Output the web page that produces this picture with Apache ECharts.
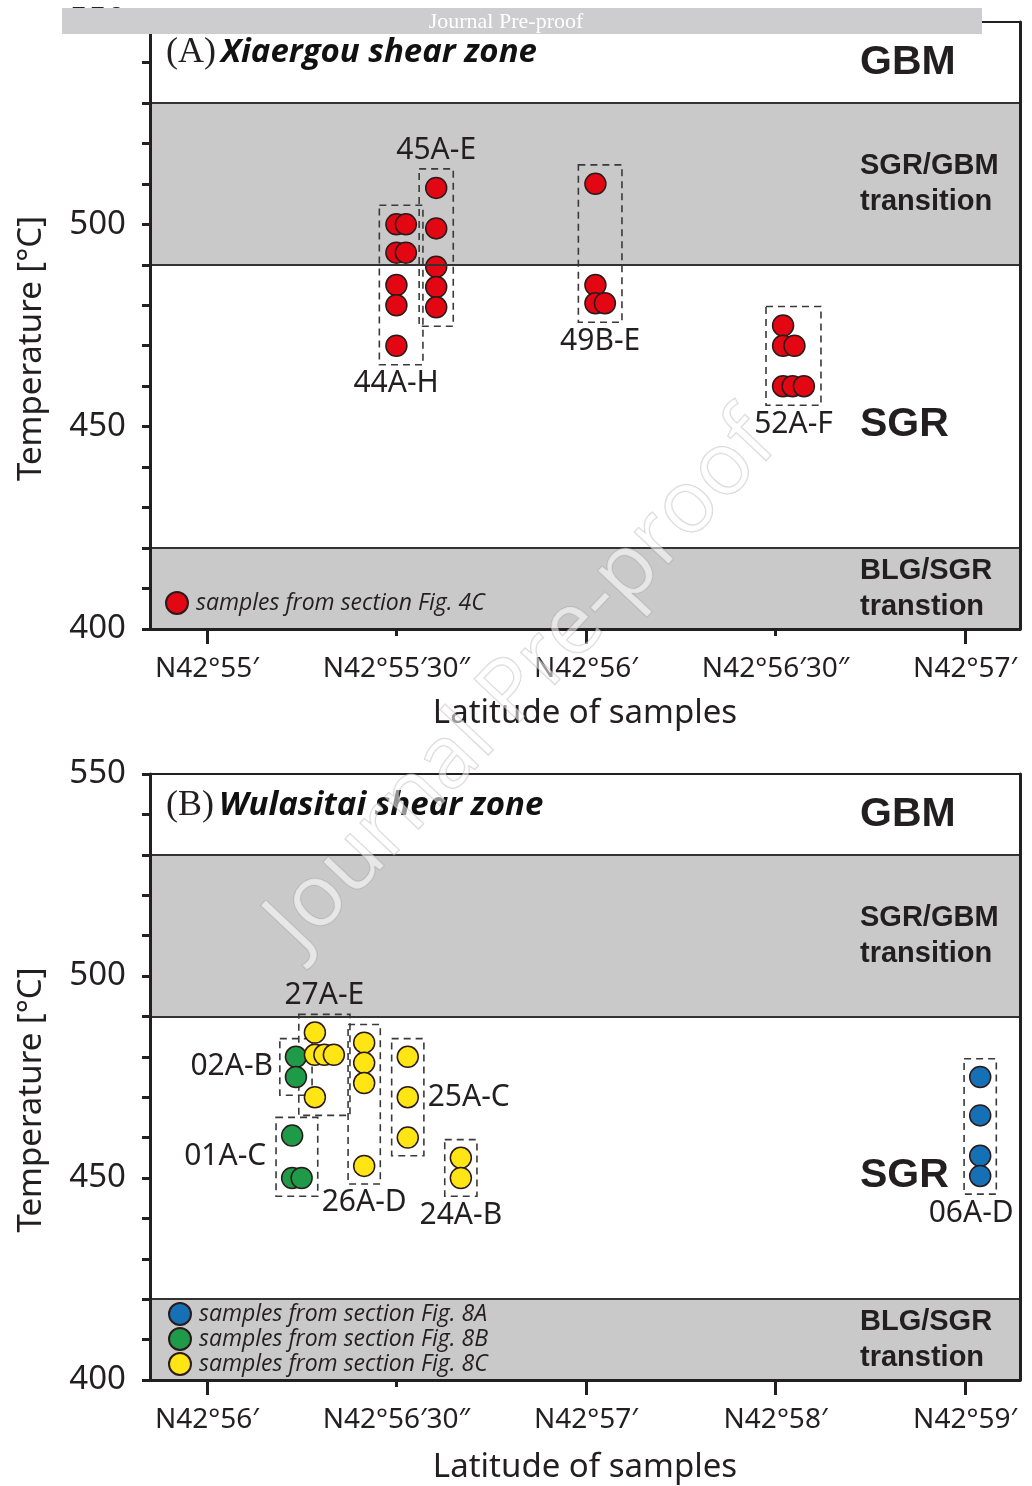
<!DOCTYPE html>
<html>
<head>
<meta charset="utf-8">
<script src="https://cdn.jsdelivr.net/npm/echarts@6/dist/echarts.min.js"></script>
<style>
  html, body { margin: 0; padding: 0; background: #fff; }
  #chart { width: 1032px; height: 1486px; }
</style>
</head>
<body>
<div id="chart"></div>
<script>
// tick labels of the two latitude axes (one axis unit per labelled tick)
const topLatLabels = ['N42°55′', 'N42°55′30″', 'N42°56′', 'N42°56′30″', 'N42°57′']
const bottomLatLabels = ['N42°56′', 'N42°56′30″', 'N42°57′', 'N42°58′', 'N42°59′']

// recrystallisation regimes, temperature limits in °C
const bandNames = ['BLG/SGR\ntranstion', 'SGR', 'SGR/GBM\ntransition', 'GBM']
const bandFrom = [400, 420, 490, 530]
const bandTo = [420, 490, 530, 550]

// (A) Xiaergou shear zone: [latitude position, temperature]
const g44 = [[1.0, 500], [1.05, 500], [1.0, 493], [1.05, 493], [1.0, 485], [1.0, 480], [1.0, 470]]
const g45 = [[1.21, 509], [1.21, 499], [1.21, 489.5], [1.21, 484.5], [1.21, 479.5]]
const g49 = [[2.05, 510], [2.05, 485], [2.05, 480.5], [2.1, 480.5]]
const g52 = [[3.04, 475], [3.04, 470], [3.1, 470], [3.04, 460], [3.09, 460], [3.15, 460]]

// (B) Wulasitai shear zone
const g06 = [[4.08, 475], [4.08, 465.5], [4.08, 455.5], [4.08, 450.5]]
const g02 = [[0.47, 480], [0.47, 475]]
const g01 = [[0.45, 460.5], [0.45, 450], [0.5, 450]]
const g27 = [[0.57, 486], [0.57, 480.5], [0.62, 480.5], [0.67, 480.5], [0.57, 470]]
const g26 = [[0.83, 483.5], [0.83, 478.5], [0.83, 473.5], [0.83, 453]]
const g25 = [[1.06, 480], [1.06, 470], [1.06, 460]]
const g24 = [[1.34, 455], [1.34, 450]]

const topGroups = [['44A-H', g44], ['45A-E', g45], ['49B-E', g49], ['52A-F', g52]]
const bottomGroups = [['27A-E', g27], ['02A-B', g02], ['01A-C', g01], ['26A-D', g26],
  ['25A-C', g25], ['24A-B', g24], ['06A-D', g06]]

// where each group label sits next to its dashed box
const labelSide = {
  '44A-H': 'bottom', '45A-E': 'top', '49B-E': 'bottom', '52A-F': 'bottom',
  '27A-E': 'top', '02A-B': 'left', '01A-C': 'left', '26A-D': 'bottom',
  '25A-C': 'right', '24A-B': 'bottom', '06A-D': 'bottom',
}
const labelShift = { '44A-H': [-5, 0], '06A-D': [-9, 0], '01A-C': [-3, 0] }

const INK = '#231f20'
const GREY = '#c9c9ca'
const SANS = '"Noto Sans", "Open Sans", sans-serif'

const chart = echarts.init(document.getElementById('chart'))

function groupBoxes(groups, padX, padY) {
  return groups.map(([name, pts]) => {
    const xs = pts.map((p) => p[0])
    const ys = pts.map((p) => p[1])
    const side = labelSide[name]
    return [
      {
        name,
        xAxis: Math.min(...xs) - padX,
        yAxis: Math.max(...ys) + padY,
        label: {
          show: true, position: side, distance: side === 'left' ? 6 : 3,
          offset: labelShift[name] || [0, 0],
          color: INK, fontSize: 30, fontFamily: SANS,
        },
      },
      { xAxis: Math.max(...xs) + padX, yAxis: Math.min(...ys) - padY },
    ]
  })
}

function bandAreas() {
  return bandNames.map((name, i) => [
    {
      name,
      yAxis: bandFrom[i],
      itemStyle: { color: i % 2 === 0 ? GREY : 'rgba(0,0,0,0)' },
      label: {
        show: true,
        position: [710, '50%'],
        offset: name === 'SGR' ? [0, 18] : [0, 0],
        align: 'left',
        verticalAlign: 'middle',
        color: INK,
        fontFamily: '"Liberation Sans", Arial, sans-serif',
        fontWeight: 'bold',
        fontSize: name.includes('\n') ? 29 : 41,
        lineHeight: 36,
      },
    },
    { yAxis: bandTo[i] },
  ])
}

function bandSeries(i) {
  return {
    type: 'scatter',
    xAxisIndex: i,
    yAxisIndex: i,
    data: [],
    silent: true,
    z: 1,
    markArea: { silent: true, data: bandAreas() },
    markLine: {
      silent: true,
      symbol: 'none',
      label: { show: false },
      lineStyle: { color: '#333', width: 2, type: 'solid' },
      data: bandFrom.slice(1).map((v) => ({ yAxis: v })),
    },
  }
}

function boxSeries(i, groups, padX, padY) {
  return {
    type: 'scatter',
    xAxisIndex: i,
    yAxisIndex: i,
    data: [],
    silent: true,
    z: 2,
    markArea: {
      silent: true,
      itemStyle: { color: 'rgba(0,0,0,0)', borderColor: '#3a3a3a', borderWidth: 1.6, borderType: [7, 5] },
      data: groupBoxes(groups, padX, padY),
    },
  }
}

function pointSeries(i, name, color, data) {
  return {
    type: 'scatter',
    name,
    xAxisIndex: i,
    yAxisIndex: i,
    symbol: 'circle',
    symbolSize: 21,
    z: 3,
    itemStyle: { color, borderColor: '#2a1a1a', borderWidth: 1.5, opacity: 1 },
    data,
  }
}

function latAxis(i, labels, longTicks, gap) {
  return {
    gridIndex: i,
    type: 'value',
    position: 'bottom',
    min: -0.3,
    max: 4.29,
    z: 5,
    name: 'Latitude of samples',
    nameLocation: 'middle',
    nameGap: gap,
    nameMoveOverlap: false,
    nameTextStyle: { color: INK, fontSize: 33, fontFamily: SANS },
    axisLine: { onZero: false, lineStyle: { color: INK, width: 3 } },
    axisTick: { customValues: longTicks, length: 15, lineStyle: { color: INK, width: 3 } },
    axisLabel: {
      customValues: [0, 1, 2, 3, 4],
      formatter: (v) => labels[Math.round(v)],
      margin: 26,
      color: INK,
      fontSize: 28,
      fontFamily: SANS,
    },
    splitLine: { show: false },
  }
}

function shortTickAxis(i, ticks) {
  return {
    gridIndex: i,
    type: 'value',
    position: 'bottom',
    min: -0.3,
    max: 4.29,
    z: 5,
    axisLine: { show: false, onZero: false },
    axisTick: { customValues: ticks, length: 7, lineStyle: { color: INK, width: 3 } },
    axisLabel: { show: false },
    splitLine: { show: false },
  }
}

function frameAxisX(i) {
  return {
    gridIndex: i, type: 'value', position: 'top', min: 0, max: 1, z: 5,
    axisLine: { onZero: false, lineStyle: { color: INK, width: 2 } },
    axisTick: { show: false }, axisLabel: { show: false }, splitLine: { show: false },
  }
}

function tempAxis(i) {
  return {
    gridIndex: i,
    type: 'value',
    position: 'left',
    min: 400,
    max: 550,
    interval: 10,
    z: 5,
    name: 'Temperature [°C]',
    nameLocation: 'middle',
    nameGap: 102,
    nameMoveOverlap: false,
    nameTextStyle: { color: INK, fontSize: 33, fontFamily: SANS, padding: [0, 46, 0, 0] },
    axisLine: { onZero: false, lineStyle: { color: INK, width: 3 } },
    axisTick: { length: 8, lineStyle: { color: INK, width: 3 } },
    axisLabel: {
      formatter: (v) => (v % 50 === 0 ? String(v) : ''),
      margin: 24,
      color: INK,
      fontSize: 33,
      fontFamily: SANS,
    },
    splitLine: { show: false },
  }
}

function frameAxisY(i) {
  return {
    gridIndex: i, type: 'value', position: 'right', min: 0, max: 1, z: 5,
    axisLine: { onZero: false, lineStyle: { color: INK, width: 3 } },
    axisTick: { show: false }, axisLabel: { show: false }, splitLine: { show: false },
  }
}

function panelTitle(letter, text, top) {
  return {
    left: 161,
    top,
    text: `{p|(${letter})} {t|${text}}`,
    textStyle: {
      rich: {
        p: { fontFamily: '"Liberation Serif", serif', fontSize: 36, fontWeight: 'normal', color: INK },
        t: { fontFamily: '"Open Sans", sans-serif', fontSize: 33, fontStyle: 'italic', fontWeight: 'bold', color: '#111' },
      },
    },
  }
}

const legendText = { color: INK, fontSize: 23, fontStyle: 'italic', fontFamily: '"Open Sans", sans-serif', lineHeight: 22, padding: [0, 0, 0, 3] }

chart.setOption({
  animation: false,
  title: [panelTitle('A', 'Xiaergou shear zone', 30), panelTitle('B', 'Wulasitai shear zone', 783)],
  grid: [
    { left: 150, top: 22, width: 870, height: 607 },
    { left: 150, top: 774, width: 870, height: 606 },
  ],
  xAxis: [
    latAxis(0, topLatLabels, [0, 2, 4], 68),
    latAxis(1, bottomLatLabels, [0, 2, 3, 4], 71),
    shortTickAxis(0, [1, 3]),
    shortTickAxis(1, [1]),
    frameAxisX(0),
    frameAxisX(1),
  ],
  yAxis: [tempAxis(0), tempAxis(1), frameAxisY(0), frameAxisY(1)],
  legend: [
    {
      data: ['samples from section Fig. 4C'],
      left: 165, top: 591, padding: 0,
      icon: 'circle', itemWidth: 22, itemHeight: 22,
      textStyle: legendText,
    },
    {
      data: ['samples from section Fig. 8A', 'samples from section Fig. 8B', 'samples from section Fig. 8C'],
      orient: 'vertical', left: 168, top: 1302, padding: 0, itemGap: 1,
      icon: 'circle', itemWidth: 22, itemHeight: 22,
      textStyle: legendText,
    },
  ],
  series: [
    bandSeries(0),
    boxSeries(0, topGroups, 0.09, 4.7),
    pointSeries(0, 'samples from section Fig. 4C', '#e30613', [].concat(g44, g45, g49, g52)),
    bandSeries(1),
    boxSeries(1, bottomGroups, 0.085, 4.5),
    pointSeries(1, 'samples from section Fig. 8A', '#1670b6', g06),
    pointSeries(1, 'samples from section Fig. 8B', '#1f9a48', [].concat(g02, g01)),
    pointSeries(1, 'samples from section Fig. 8C', '#ffe513', [].concat(g27, g26, g25, g24)),
  ],
  graphic: [
    {
      type: 'text',
      x: 522,
      y: 683,
      rotation: 0.815,
      z: 100,
      silent: true,
      style: {
        text: 'Journal Pre-proof',
        font: '87px "Open Sans", sans-serif',
        align: 'center',
        verticalAlign: 'middle',
        fill: 'rgba(255,255,255,0.55)',
        stroke: 'rgba(150,150,150,0.4)',
        lineWidth: 1.5,
      },
    },
    {
      type: 'rect',
      z: 100,
      silent: true,
      shape: { x: 62, y: 8, width: 920, height: 26 },
      style: { fill: '#cdcdcf' },
    },
    {
      type: 'text',
      x: 506,
      y: 22,
      z: 101,
      silent: true,
      style: {
        text: 'Journal Pre-proof',
        font: '22px "Liberation Serif", serif',
        align: 'center',
        verticalAlign: 'middle',
        fill: '#fff',
      },
    },
  ],
})
</script>
</body>
</html>
